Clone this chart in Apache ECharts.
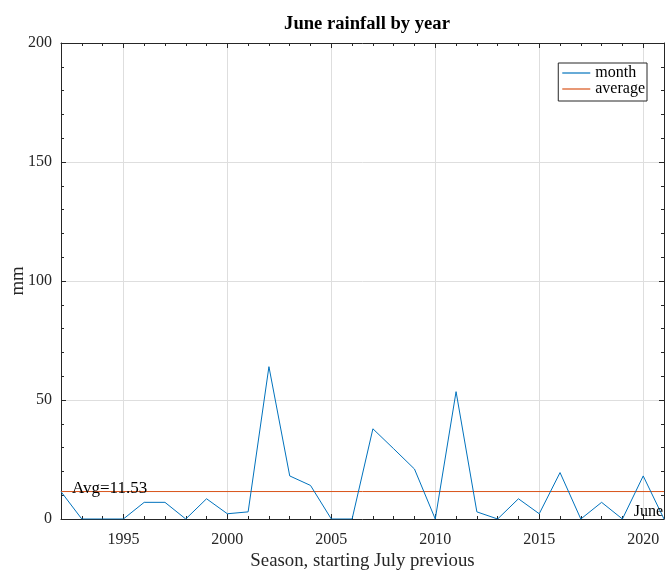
<!DOCTYPE html>
<html><head><meta charset="utf-8">
<script src="https://cdn.jsdelivr.net/npm/echarts@6/dist/echarts.min.js"></script>
<style>html,body{margin:0;padding:0;background:#fff}#c{width:668px;height:577px}</style>
</head><body><div id="c"></div>
<script>
// ---- data ----
const years = [1992,1993,1994,1995,1996,1997,1998,1999,2000,2001,2002,2003,2004,2005,2006,2007,2008,2009,2010,2011,2012,2013,2014,2015,2016,2017,2018,2019,2020,2021];
const monthMm = [11.5,0,0,0,7.0,7.0,0,8.5,2.2,3.0,64.0,18.1,14.1,0,0,37.9,29.5,21.0,0,53.5,3.0,0,8.5,2.2,19.5,0,7.0,0,18.1,0];
const avgMm = 11.53;
const xMajorTicks = [1995,2000,2005,2010,2015,2020];
const xMin = 1992, xMax = 2021;
const yMin = 0, yMax = 200, yStep = 50;
const titleText = 'June rainfall by year';
const xName = 'Season, starting July previous';
const yName = 'mm';
const seriesNames = ['month','average'];
const avgLabel = 'Avg=' + avgMm.toFixed(2);
const cornerLabel = 'June';

// ---- chart ----
const FONT = 'Liberation Serif';
const AX = '#262626';
const GRID = '#dedede';
const BLUE = '#0072BD', ORANGE = '#D95319';
const chart = echarts.init(document.getElementById('c'), null, {renderer:'canvas'});

function xAx(pos, major){
  return {
    type:'value', position:pos, min:xMin, max:xMax, interval:1,
    axisLine:{show:major, onZero:false, lineStyle:{color:AX, width:1}},
    axisTick:major ? {show:true, inside:true, length:5, customValues:xMajorTicks, lineStyle:{color:AX, width:1}}
                   : {show:true, inside:true, length:3, lineStyle:{color:AX, width:1}},
    axisLabel:{show:false},
    splitLine:{show:false}
  };
}
const xMain = xAx('bottom', true);
xMain.axisLabel = {show:true, customValues:xMajorTicks, margin:13, fontFamily:FONT, fontSize:16, color:AX,
  formatter:(v)=>String(v)};
xMain.splitLine = {show:true, lineStyle:{color:GRID, width:1}};
xMain.name = xName; xMain.nameLocation = 'middle'; xMain.nameGap = 33; xMain.nameMoveOverlap = false;
xMain.nameTextStyle = {fontFamily:FONT, fontSize:18.8, color:AX};

function yAx(pos, main){
  const a = {
    type:'value', position:pos, min:yMin, max:yMax, interval:yStep,
    axisLine:{show:true, onZero:false, lineStyle:{color:AX, width:1}},
    axisTick:{show:true, inside:true, length:5, lineStyle:{color:AX, width:1}},
    minorTick:{show:true, splitNumber:5, length:3, lineStyle:{color:AX, width:1}},
    axisLabel:{show:main, margin:9, fontFamily:FONT, fontSize:16, color:AX},
    splitLine:{show:main, lineStyle:{color:GRID, width:1}}
  };
  if (main) {
    a.name = yName; a.nameLocation = 'middle'; a.nameGap = 33; a.nameMoveOverlap = false;
    a.nameTextStyle = {fontFamily:FONT, fontSize:18.8, color:AX};
  }
  return a;
}

const option = {
  animation:false,
  backgroundColor:'#fff',
  title:{text:titleText, left:362, top:10, textAlign:'center',
    textStyle:{fontFamily:FONT, fontSize:18.6, fontWeight:'bold', color:'#000'}},
  legend:{
    data:seriesNames.map(n=>({name:n, icon:'rect'})), orient:'vertical', right:21, top:63,
    padding:[2,2,4,4], itemGap:0, itemWidth:28, itemHeight:1.2,
    borderColor:AX, borderWidth:1, backgroundColor:'#fff',
    textStyle:{fontFamily:FONT, fontSize:16, color:'#000', lineHeight:16}
  },
  grid:{left:61, right:4, top:43, bottom:58, containLabel:false, outerBoundsMode:'none'},
  xAxis:[xMain, xAx('bottom', false), xAx('top', true), xAx('top', false)],
  yAxis:[yAx('left', true), yAx('right', false)],
  series:[
    {name:seriesNames[0], type:'line', xAxisIndex:0, yAxisIndex:0,
     data:years.map((y,i)=>[y, monthMm[i]]), symbol:'none',
     lineStyle:{color:BLUE, width:1}, itemStyle:{color:BLUE}, z:3},
    {name:seriesNames[1], type:'line', xAxisIndex:0, yAxisIndex:0,
     data:[[xMin, avgMm],[xMax, avgMm]], symbol:'none',
     lineStyle:{color:ORANGE, width:1}, itemStyle:{color:ORANGE}, z:2}
  ]
};
chart.setOption(option);

const pA = chart.convertToPixel({xAxisIndex:0, yAxisIndex:0}, [xMin, avgMm]);
const pJ = chart.convertToPixel({xAxisIndex:0, yAxisIndex:0}, [xMax, yMin]);
chart.setOption({graphic:[
  {type:'text', x:pA[0]+11, y:pA[1]-3, z:10,
   style:{text:avgLabel, font:'17px "Liberation Serif"', fill:'#000', align:'left', verticalAlign:'middle'}},
  {type:'text', x:pJ[0]-1, y:pJ[1]-7, z:10,
   style:{text:cornerLabel, font:'16px "Liberation Serif"', fill:'#000', align:'right', verticalAlign:'middle'}}
]});
</script>
</body></html>
